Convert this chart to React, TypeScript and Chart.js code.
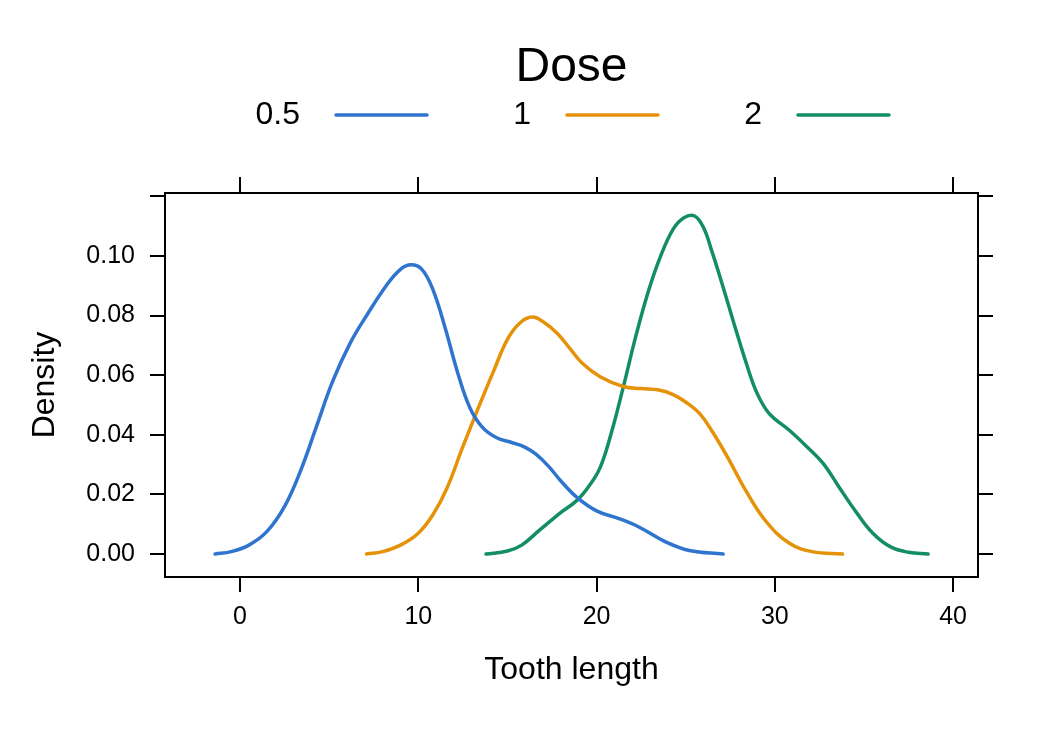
import React, { useEffect, useRef } from "react";
import { Chart, registerables } from "chart.js";

Chart.register(...registerables);

const FONT = "'Liberation Sans', Arial, Helvetica, sans-serif";

const legendTitle = "Dose";
const seriesNames = ["0.5", "1", "2"];
const seriesColors = ["#2F74CF", "#E59208", "#138E62"];

const xTicks = [0, 10, 20, 30, 40];
const yTicks = [0, 0.02, 0.04, 0.06, 0.08, 0.1, 0.12];
const xTitle = "Tooth length";
const yTitle = "Density";

// Dose 0.5
const x05 = [-1.4, -0.5, 0.5, 1.5, 2.5, 3.4, 4.3, 5.2, 6.2, 7.1, 8.2, 9.0, 9.6, 10.2, 10.8, 11.5, 12.2, 12.9, 13.6, 14.4, 15.2, 16.0, 16.6, 17.3, 18.0, 18.9, 20.0, 21.3, 22.4, 23.9, 25.2, 27.1];
const d05 = [0, 0.0008, 0.003, 0.0075, 0.016, 0.028, 0.043, 0.058, 0.071, 0.08, 0.09, 0.0955, 0.097, 0.0955, 0.089, 0.076, 0.061, 0.049, 0.0425, 0.039, 0.0375, 0.0358, 0.0335, 0.0295, 0.0245, 0.019, 0.0145, 0.0118, 0.009, 0.004, 0.0012, 0];
// Dose 1
const x1 = [7.1, 8.0, 9.0, 10.0, 10.8, 11.6, 12.5, 13.3, 14.2, 15.0, 15.7, 16.4, 17.1, 17.8, 18.5, 19.2, 20.2, 21.5, 22.5, 23.5, 24.3, 25.0, 25.8, 26.5, 27.3, 28.4, 29.5, 30.8, 32.1, 33.8];
const d1 = [0, 0.0008, 0.003, 0.007, 0.013, 0.022, 0.036, 0.048, 0.061, 0.072, 0.0775, 0.0795, 0.0775, 0.074, 0.069, 0.064, 0.0595, 0.0562, 0.0555, 0.055, 0.0535, 0.051, 0.047, 0.041, 0.033, 0.021, 0.011, 0.0037, 0.0008, 0];
// Dose 2
const x2 = [13.8, 15.0, 15.8, 16.8, 17.9, 18.9, 19.6, 20.2, 20.8, 21.5, 22.2, 22.9, 23.6, 24.3, 24.9, 25.5, 26.0, 26.5, 27.0, 27.7, 28.4, 29.0, 29.7, 30.8, 31.8, 32.7, 33.6, 34.6, 35.5, 36.5, 37.5, 38.6];
const d2 = [0, 0.001, 0.003, 0.008, 0.0135, 0.018, 0.023, 0.029, 0.04, 0.056, 0.073, 0.088, 0.1, 0.109, 0.1128, 0.1134, 0.1095, 0.101, 0.0915, 0.0775, 0.064, 0.054, 0.047, 0.0416, 0.036, 0.0305, 0.0225, 0.0138, 0.007, 0.0024, 0.0006, 0];

const seriesX = [x05, x1, x2];
const seriesY = [d05, d1, d2];

const X_MIN = -4.21;
const X_MAX = 41.4;
const Y_MIN = -0.0077;
const Y_MAX = 0.1211;

const W = 1056;
const H = 729;

const legendPlugin = {
  id: "doseLegend",
  afterDraw(chart: any) {
    const ctx = chart.ctx;
    const area = chart.chartArea;
    const cx = (area.left + area.right) / 2;
    ctx.save();
    ctx.fillStyle = "#000";
    ctx.font = `48px ${FONT}`;
    ctx.textAlign = "center";
    ctx.textBaseline = "middle";
    ctx.fillText(legendTitle, cx, 68);
    const ds = chart.data.datasets;
    const lineStarts = [336, 567, 798];
    const lineLen = 91;
    const rowY = 115;
    ds.forEach((d: any, i: number) => {
      ctx.font = `32px ${FONT}`;
      ctx.textAlign = "right";
      ctx.textBaseline = "middle";
      ctx.fillStyle = "#000";
      ctx.fillText(d.label, lineStarts[i] - 36, rowY);
      ctx.strokeStyle = d.borderColor;
      ctx.lineWidth = 3.5;
      ctx.lineCap = "round";
      ctx.beginPath();
      ctx.moveTo(lineStarts[i], rowY);
      ctx.lineTo(lineStarts[i] + lineLen, rowY);
      ctx.stroke();
    });
    ctx.restore();
  },
};

export default function App() {
  const ref = useRef<HTMLCanvasElement | null>(null);
  useEffect(() => {
    document.body.style.margin = "0";
    const canvas = ref.current;
    if (!canvas) return;
    const gridCommon = {
      display: true,
      drawOnChartArea: false,
      drawTicks: true,
      color: "#000",
      lineWidth: 2,
      tickWidth: 2,
    };
    const borderCommon = { display: true, color: "#000", width: 2 };
    const chart = new Chart(canvas, {
      type: "scatter",
      data: {
        datasets: seriesNames.map((name, i) => ({
          label: name,
          data: seriesX[i].map((x, j) => ({ x, y: seriesY[i][j] })),
          showLine: true,
          borderColor: seriesColors[i],
          backgroundColor: seriesColors[i],
          borderWidth: 3.5,
          borderCapStyle: "round",
          borderJoinStyle: "round",
          pointRadius: 0,
          pointHoverRadius: 0,
          tension: 0.4,
          fill: false,
        })),
      },
      options: {
        responsive: false,
        animation: false,
        devicePixelRatio: 1,
        events: [],
        layout: { padding: 0 },
        plugins: {
          legend: { display: false },
          title: { display: false },
          tooltip: { enabled: false },
        },
        scales: {
          x: {
            type: "linear",
            position: "bottom",
            min: X_MIN,
            max: X_MAX,
            afterBuildTicks: (s: any) => {
              s.ticks = xTicks.map((v) => ({ value: v }));
            },
            afterFit: (s: any) => {
              s.height = H - 577;
            },
            ticks: {
              autoSkip: false,
              maxRotation: 0,
              color: "#000",
              padding: 10,
              font: { size: 25, family: FONT },
              callback: (v: any) => String(v),
            },
            grid: { ...gridCommon, tickLength: 15 },
            border: borderCommon,
            title: {
              display: true,
              text: xTitle,
              color: "#000",
              font: { size: 32, family: FONT },
              padding: { top: 0, bottom: 40 },
            },
          },
          xTop: {
            type: "linear",
            position: "top",
            min: X_MIN,
            max: X_MAX,
            afterBuildTicks: (s: any) => {
              s.ticks = xTicks.map((v) => ({ value: v }));
            },
            afterFit: (s: any) => {
              s.height = 193;
            },
            ticks: { display: false },
            grid: { ...gridCommon, tickLength: 16 },
            border: borderCommon,
          },
          y: {
            type: "linear",
            position: "left",
            min: Y_MIN,
            max: Y_MAX,
            afterBuildTicks: (s: any) => {
              s.ticks = yTicks.map((v) => ({ value: v }));
            },
            afterFit: (s: any) => {
              s.width = 165;
            },
            ticks: {
              autoSkip: false,
              color: "#000",
              padding: 15,
              font: { size: 25, family: FONT },
              callback: (v: any) => (Number(v) > 0.11 ? "" : Number(v).toFixed(2)),
            },
            grid: { ...gridCommon, tickLength: 15 },
            border: borderCommon,
            title: {
              display: true,
              text: yTitle,
              color: "#000",
              font: { size: 32, family: FONT },
              padding: { top: 26, bottom: 0 },
            },
          },
          yRight: {
            type: "linear",
            position: "right",
            min: Y_MIN,
            max: Y_MAX,
            afterBuildTicks: (s: any) => {
              s.ticks = yTicks.map((v) => ({ value: v }));
            },
            afterFit: (s: any) => {
              s.width = W - 978;
            },
            ticks: { display: false },
            grid: { ...gridCommon, tickLength: 15 },
            border: borderCommon,
          },
        },
      } as any,
      plugins: [legendPlugin],
    });
    return () => chart.destroy();
  }, []);
  return (
    <div style={{ width: W, height: H, background: "#fff" }}>
      <canvas ref={ref} width={W} height={H} style={{ display: "block" }} />
    </div>
  );
}
